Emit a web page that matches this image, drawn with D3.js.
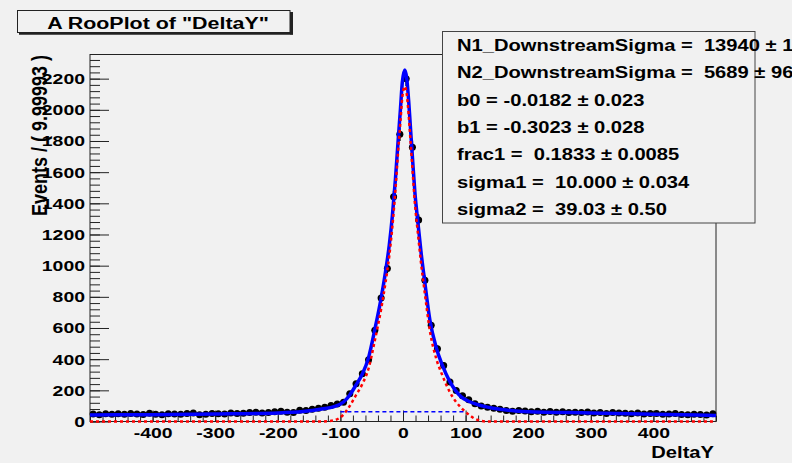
<!DOCTYPE html>
<html>
<head>
<meta charset="utf-8">
<script src="https://cdn.jsdelivr.net/npm/d3@7"></script>
<style>
  body { margin: 0; background: #f1f1f1; }
  svg { display: block; font-family: "Liberation Sans", Arial, sans-serif; font-weight: bold; }
  text { white-space: pre; }
</style>
</head>
<body>
<div id="chart"></div>
<script>
// DeltaY histogram: 100 bins of width 10 between -500 and 500
var binLow = -500, binWidth = 10;
var counts = [48, 44, 50, 47, 49, 46, 51, 48, 45, 53,
              47, 44, 50, 48, 46, 52, 55, 43, 47, 52,
              50, 48, 55, 51, 53, 58, 60, 55, 57, 62,
              66, 60, 58, 72, 70, 78, 85, 92, 103, 112,
              124, 178, 242, 307, 397, 585, 793, 982, 1442, 1843,
              2200, 1760, 1293, 907, 617, 467, 360, 253, 199, 165,
              140, 114, 100, 92, 85, 78, 70, 66, 71, 68,
              63, 66, 60, 64, 59, 62, 57, 60, 58, 61,
              55, 57, 52, 58, 55, 53, 50, 54, 48, 52,
              51, 46, 48, 52, 45, 44, 47, 45, 42, 50];

// fitted pdf, total and signal component
var fitX      = [-500, -400, -300, -200, -160, -130, -110, -95, -85, -75, -65, -55, -45, -35, -28, -22, -17, -12, -8, -4, -1,
                 3, 6, 9, 12, 15, 19, 24, 29, 34, 43, 53, 63, 74, 84, 93, 105, 118, 135, 155, 180, 200, 300, 400, 500];
var fitTotal  = [42, 44, 48, 55, 64, 80, 95, 125, 170, 235, 305, 410, 590, 790, 960, 1130, 1320, 1560, 1790, 2010, 2180,
                 2255, 2200, 2060, 1880, 1700, 1470, 1270, 1080, 920, 650, 475, 360, 262, 198, 158, 130, 110, 92, 78, 68, 63, 55, 46, 39];
var fitSignal = [0, 0, 0, 0, 0, 0, 8, 45, 100, 170, 240, 340, 520, 720, 890, 1060, 1250, 1490, 1720, 1930, 2085,
                 2150, 2100, 1970, 1800, 1625, 1400, 1200, 1010, 850, 580, 405, 295, 195, 130, 88, 45, 12, 0, 0, 0, 0, 0, 0, 0];
// background component, drawn over the signal window
var bkgX = [-100, 100];
var bkgY = [62, 62];

var xTicks = [-400, -300, -200, -100, 0, 100, 200, 300, 400];
var yTicks = [0, 200, 400, 600, 800, 1000, 1200, 1400, 1600, 1800, 2000, 2200];

var statLines = [
  "N1_DownstreamSigma =  13940 \u00b1 1",
  "N2_DownstreamSigma =  5689 \u00b1 96",
  "b0 = -0.0182 \u00b1 0.023",
  "b1 = -0.3023 \u00b1 0.028",
  "frac1 =  0.1833 \u00b1 0.0085",
  "sigma1 =  10.000 \u00b1 0.034",
  "sigma2 =  39.03 \u00b1 0.50"
];

var W = 792, H = 463;
var frame = {left: 90, right: 716, top: 54.5, bottom: 421.5};
var bg = "#f1f1f1";
var sx = 1.26; // the lettering in the picture is stretched sideways
var plain = function(d) { return String(d); }; // ROOT style: no thousands commas, ascii minus

var svg = d3.select("#chart").append("svg")
  .attr("width", W)
  .attr("height", H);

svg.append("rect").attr("width", W).attr("height", H).attr("fill", bg);

var x = d3.scaleLinear().domain([-500, 500]).range([frame.left, frame.right]);
var y = d3.scaleLinear().domain([0, 2355]).range([frame.bottom, frame.top]);

// frame
svg.append("rect")
  .attr("x", frame.left).attr("y", frame.top)
  .attr("width", frame.right - frame.left)
  .attr("height", frame.bottom - frame.top)
  .attr("fill", bg)
  .attr("stroke", "#222")
  .attr("stroke-width", 1);

// y axis, ticks pointing into the frame
var yAxis = svg.append("g")
  .attr("transform", "translate(" + frame.left + ",0)")
  .call(d3.axisLeft(y).tickValues(yTicks).tickFormat(plain).tickSizeInner(-19).tickSizeOuter(0).tickPadding(4));
yAxis.append("g")
  .call(d3.axisLeft(y).tickValues(d3.range(0, 2355, 40)).tickSizeInner(-10).tickSizeOuter(0).tickFormat(""));

// x axis, ticks pointing up
var xAxis = svg.append("g")
  .attr("transform", "translate(0," + frame.bottom + ")")
  .call(d3.axisBottom(x).tickValues(xTicks).tickFormat(plain).tickSizeInner(-11).tickSizeOuter(0).tickPadding(5.5));
xAxis.append("g")
  .call(d3.axisBottom(x).tickValues(d3.range(-500, 501, 20)).tickSizeInner(-6).tickSizeOuter(0).tickFormat(""));

svg.selectAll(".domain").remove();
svg.selectAll(".tick line").attr("stroke", "#222");
[xAxis, yAxis].forEach(function(g) {
  g.attr("font-family", "'Liberation Sans', Arial, sans-serif")
   .attr("font-weight", "bold")
   .attr("font-size", 15.4);
});
svg.selectAll(".tick text")
  .attr("fill", "#000")
  .attr("font-weight", "bold")
  .attr("transform", "scale(" + sx + ",1)");

// data points with error bars
var pts = svg.append("g");
counts.forEach(function(n, i) {
  var lo = binLow + i * binWidth, hi = lo + binWidth, c = lo + binWidth / 2;
  var e = Math.sqrt(n);
  pts.append("line")
    .attr("x1", x(lo)).attr("x2", x(hi))
    .attr("y1", y(n)).attr("y2", y(n))
    .attr("stroke", "#000").attr("stroke-width", 1.5);
  pts.append("line")
    .attr("x1", x(c)).attr("x2", x(c))
    .attr("y1", y(n - e)).attr("y2", y(n + e))
    .attr("stroke", "#000").attr("stroke-width", 1.5);
  pts.append("circle")
    .attr("cx", x(c)).attr("cy", y(n))
    .attr("r", 3.5)
    .attr("fill", "#000");
});

// curves
var line = d3.line()
  .x(function(d) { return x(d[0]); })
  .y(function(d) { return y(d[1]); })
  .curve(d3.curveMonotoneX);

svg.append("path")
  .attr("d", line(d3.zip(fitX, fitTotal)))
  .attr("fill", "none")
  .attr("stroke", "#0000ff")
  .attr("stroke-width", 3.5);

svg.append("path")
  .attr("d", line(d3.zip(fitX, fitSignal)))
  .attr("fill", "none")
  .attr("stroke", "#ff0000")
  .attr("stroke-width", 2.5)
  .attr("stroke-dasharray", "3,3");

svg.append("path")
  .attr("d", line(d3.zip(bkgX, bkgY)))
  .attr("fill", "none")
  .attr("stroke", "#0000ff")
  .attr("stroke-width", 1.5)
  .attr("stroke-dasharray", "4,3");

// axis titles
svg.append("text")
  .attr("transform", "translate(46.5,55) scale(" + sx + ",1) rotate(-90)")
  .attr("text-anchor", "end")
  .style("font-size", "18px")
  .text("Events / ( 9.99993 )");

svg.append("text")
  .attr("transform", "translate(714,457.5) scale(" + sx + ",1)")
  .attr("text-anchor", "end")
  .style("font-size", "16px")
  .text("DeltaY");

// title box with shadow
svg.append("line")
  .attr("x1", 291.5).attr("x2", 291.5).attr("y1", 12).attr("y2", 34.5)
  .attr("stroke", "#222").attr("stroke-width", 3);
svg.append("line")
  .attr("x1", 19).attr("x2", 293).attr("y1", 33.5).attr("y2", 33.5)
  .attr("stroke", "#222").attr("stroke-width", 2.5);
svg.append("rect")
  .attr("x", 17.5).attr("y", 10.5)
  .attr("width", 272.5).attr("height", 22)
  .attr("fill", bg)
  .attr("stroke", "#222");
svg.append("text")
  .attr("transform", "translate(158,28.5) scale(" + sx + ",1)")
  .attr("text-anchor", "middle")
  .style("font-size", "17px")
  .text("A RooPlot of \"DeltaY\"");

// parameter box
svg.append("rect")
  .attr("x", 442.5).attr("y", 31.5)
  .attr("width", 312.5).attr("height", 191.5)
  .attr("fill", bg)
  .attr("stroke", "#444");

svg.selectAll(".stat")
  .data(statLines)
  .enter()
  .append("text")
  .attr("class", "stat")
  .attr("transform", function(d, i) { return "translate(457," + (51 + i * 27.3) + ") scale(" + sx + ",1)"; })
  .style("font-size", "16px")
  .text(function(d) { return d; });
</script>
</body>
</html>
